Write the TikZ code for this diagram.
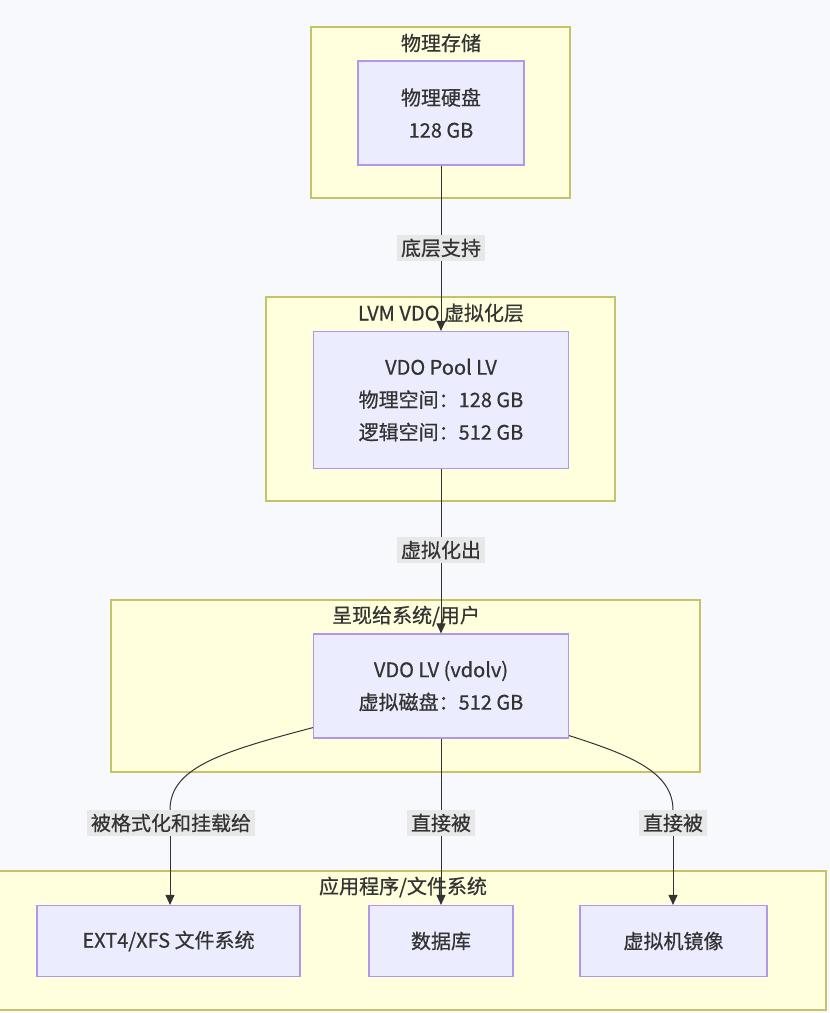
\documentclass[tikz,border=0pt]{standalone}
\usepackage{fontspec}
\setmainfont{Noto Sans CJK SC}[FakeBold=0.6]
\usetikzlibrary{arrows.meta}

\definecolor{bgcol}{HTML}{F8F9FC}
\definecolor{grpfill}{HTML}{FFFFDE}
\definecolor{grpline}{HTML}{C4C466}
\definecolor{boxfill}{HTML}{ECECFF}
\definecolor{boxline}{HTML}{B197E8}
\definecolor{lblfill}{HTML}{E8E8E8}
\definecolor{txtcol}{HTML}{333333}

\tikzset{
  grp/.style={draw=grpline, fill=grpfill, line width=1.2pt},
  grptitle/.style={text=txtcol, font=\fontsize{20}{24}\selectfont, inner sep=0pt},
  box/.style={draw=boxline, fill=boxfill, line width=1.2pt, text=txtcol,
    align=center, inner sep=0pt, font=\fontsize{20}{32.5}\selectfont},
  lbl/.style={fill=lblfill, text=txtcol, inner sep=4pt,
    font=\fontsize{20}{24}\selectfont},
  flow/.style={draw=txtcol, line width=1pt, -{Triangle[length=10pt,width=9pt]}},
}

\begin{document}
\begin{tikzpicture}[x=1pt, y=-1pt]
  \useasboundingbox (0,0) rectangle (830,1013);
  \fill[bgcol] (0,0) rectangle (830,1013);

  % groups
  \draw[grp] (311,27) rectangle (570,198);
  \node[grptitle] (gphys) at (441,43) {物理存储};
  \draw[grp] (266,297) rectangle (615,501);
  \node[grptitle] (glvm) at (441,313) {LVM VDO 虚拟化层};
  \draw[grp] (111,600) rectangle (700,772);
  \node[grptitle] (guser) at (406,616) {呈现给系统/用户};
  \draw[grp] (-2,871) rectangle (826,1010);
  \node[grptitle] (gapp) at (403,887) {应用程序/文件系统};

  % nodes
  \node[box, minimum width=166pt, minimum height=104pt] (disk) at (441,113) {物理硬盘\\128 GB};
  \node[box, minimum width=255pt, minimum height=137pt] (pool) at (441,400) {VDO Pool LV\\物理空间：128 GB\\逻辑空间：512 GB};
  \node[box, minimum width=255pt, minimum height=104pt] (vdolv) at (441,686) {VDO LV (vdolv)\\虚拟磁盘：512 GB};
  \node[box, minimum width=263pt, minimum height=71pt] (fs) at (168.5,941) {EXT4/XFS 文件系统};
  \node[box, minimum width=144pt, minimum height=71pt] (db) at (441,941) {数据库};
  \node[box, minimum width=187pt, minimum height=71pt] (vm) at (673.5,941) {虚拟机镜像};

  % connectors
  \coordinate (lft) at (170,810);
  \coordinate (rgt) at (673,810);
  \draw[flow] (disk) -- (pool);
  \draw[flow] (pool) -- (vdolv);
  \draw[draw=txtcol, line width=1pt] ([yshift=11pt]vdolv.south west) .. controls (220,752) and (170,768) .. (lft);
  \draw[flow] (lft) -- (lft |- fs.north);
  \draw[flow] (vdolv) -- (db);
  \draw[draw=txtcol, line width=1pt] ([yshift=3pt]vdolv.south east) .. controls (630,755) and (673,772) .. (rgt);
  \draw[flow] (rgt) -- (rgt |- vm.north);

  % labels
  \node[lbl] (l1) at (441,248) {底层支持};
  \node[lbl] (l2) at (441,550) {虚拟化出};
  \node[lbl] (l3) at (171,823) {被格式化和挂载给};
  \node[lbl] (l4) at (441,823) {直接被};
  \node[lbl] (l5) at (673,823) {直接被};
\end{tikzpicture}
\end{document}
